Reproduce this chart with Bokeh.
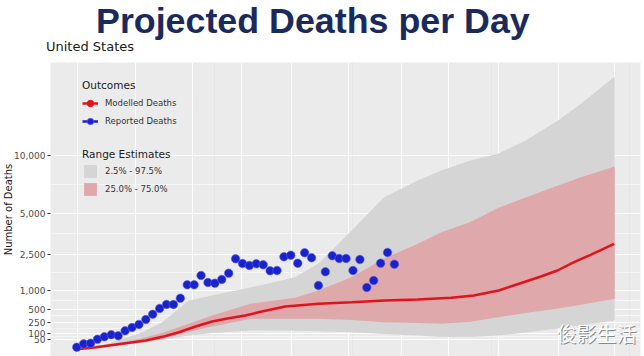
import math
from bokeh.plotting import figure
from bokeh.layouts import column
from bokeh.models import (Range1d, FixedTicker, Grid, Legend, LegendItem, Label, Div,
                          ColumnDataSource)
from bokeh.embed import file_html
from bokeh.resources import INLINE

# ---------------- data ----------------
title_text = "Projected Deaths per Day"
subtitle_text = "United States"
y_axis_title = "Number of Deaths"
watermark_text = "俊影生活"

tick_values = [50, 100, 250, 500, 1000, 2500, 5000, 10000]
tick_labels = ["50", "100", "250", "500", "1,000", "2,500", "5,000", "10,000"]

reported_days = list(range(47))
reported_deaths = [11, 25, 28, 54, 73, 92, 82, 134, 175, 218,
                   298, 398, 520, 616, 616, 784, 1207, 1207, 1555, 1289,
                   1264, 1400, 1647, 2288, 2067, 1977, 2054, 2008, 1747, 1759,
                   2386, 2465, 2081, 2586, 2337, 1183, 1705, 2435, 2303, 2303,
                   1759, 2254, 1114, 1362, 2081, 2602, 2035]

model_days = [0, 2.8, 5.2, 7.6, 10, 12.4, 14.8, 17.2, 19.6, 22, 24.4, 26.8, 30.2,
              35, 39.8, 44.6, 49.4, 54.2, 57.5, 61.1, 64.7, 67.2, 69.6, 72, 74.4, 77.8]
model_deaths = [5, 11, 20, 31, 45, 73, 118, 189, 264, 321, 372, 453, 567,
                634, 675, 720, 747, 795, 862, 1016, 1300, 1515, 1759, 2128, 2485, 3068]

band_days = [0, 4, 9, 12.4, 16.2, 19.6, 25.3, 31.6, 35, 39.8, 44.5, 49.4, 52.8,
             57, 61, 65, 69.7, 73, 77.9]
band_2_5 = [3, 10, 30, 50, 85, 110, 138, 135, 128, 118, 100, 85, 72,
            72, 85, 115, 162, 205, 281]
band_97_5 = [8, 22, 101, 253, 720, 862, 1124, 1488, 2067, 3855, 6218, 7615, 8519,
             9470, 10141, 11540, 13800, 15850, 19499]
band_25 = [4, 12, 33, 55, 120, 189, 311, 311, 311, 290, 253, 240, 228,
           260, 340, 420, 520, 610, 767]
band_75 = [6, 17, 55, 110, 230, 372, 640, 800, 1016, 1488, 2300, 3068, 3750,
           4400, 5389, 6200, 7181, 7900, 8894]

x_grid_days = [0.1, 8.5, 16.7, 23.9, 31.1, 39.4, 47, 53.8, 61.1, 69.7, 77.9]

outcome_labels = ["Modelled Deaths", "Reported Deaths"]
range_labels = ["2.5% - 97.5%", "25.0% - 75.0%"]

# ---------------- sqrt-scale transform ----------------
sq = lambda vals: [math.sqrt(v) for v in vals]

rep_src = ColumnDataSource(dict(day=reported_days, y=sq(reported_deaths)))
mod_src = ColumnDataSource(dict(day=model_days, y=sq(model_deaths)))
band_src = ColumnDataSource(dict(day=band_days, lo95=sq(band_2_5), hi95=sq(band_97_5),
                                 lo50=sq(band_25), hi50=sq(band_75)))
# legend-key helper source: one row of NaN, so nothing is drawn inside the plot
key_src = ColumnDataSource(dict(day=[math.nan], y=[math.nan]))

RED = "#E0141C"
BLUE = "#1A22CC"

# ---------------- heading (title + subtitle) ----------------
head_html = (
    '<div style="position:relative;width:644px;height:62px;margin:0;padding:0;">'
    '<div style="position:absolute;left:96px;top:1px;white-space:nowrap;'
    "font-family:'Liberation Sans';font-weight:bold;font-size:35.8px;line-height:40px;"
    f'color:#1B2A5C;">{title_text}</div>'
    '<div style="position:absolute;left:46px;top:39px;white-space:nowrap;'
    "font-family:'DejaVu Sans';font-weight:normal;font-size:13px;line-height:16px;"
    f'color:#1A1A1A;">{subtitle_text}</div>'
    '</div>'
)
head = Div(text=head_html, width=644, height=62, margin=0)

# ---------------- plot ----------------
p = figure(width=644, height=294, output_backend="svg", toolbar_location=None,
           title=None, margin=0,
           x_range=Range1d(-3.8, 81.63), y_range=Range1d(-1.36, 146.68),
           x_axis_location=None, min_border_left=48, min_border_right=4,
           min_border_top=0, min_border_bottom=0)
p.background_fill_color = "#EBEBEB"
p.border_fill_color = "white"
p.outline_line_color = None

# grids
p.ygrid.grid_line_color = "white"
p.ygrid.grid_line_width = 1.1
p.ygrid.minor_grid_line_color = "white"
p.ygrid.minor_grid_line_width = 0.5
xg = Grid(dimension=0, ticker=FixedTicker(ticks=x_grid_days),
          grid_line_color="white", grid_line_width=1.1)
p.add_layout(xg)

# y axis
major_sq = sq(tick_values)
minor_sq = [(a + b) / 2 for a, b in zip(major_sq[:-1], major_sq[1:])]
p.yaxis.ticker = FixedTicker(ticks=major_sq, minor_ticks=minor_sq)
p.yaxis.major_label_overrides = {t: lab for t, lab in zip(major_sq, tick_labels)}
p.yaxis.axis_line_color = None
p.yaxis.major_tick_line_color = "#333333"
p.yaxis.major_tick_out = 3
p.yaxis.major_tick_in = 0
p.yaxis.minor_tick_line_color = None
p.yaxis.major_label_standoff = 1
p.yaxis.major_label_text_font = "DejaVu Sans"
p.yaxis.major_label_text_font_size = "9px"
p.yaxis.major_label_text_color = "#4D4D4D"
p.yaxis.axis_label = y_axis_title
p.yaxis.axis_label_standoff = -3
p.yaxis.axis_label_text_font = "DejaVu Sans"
p.yaxis.axis_label_text_font_size = "10px"
p.yaxis.axis_label_text_font_style = "normal"
p.yaxis.axis_label_text_color = "#1A1A1A"

# glyphs
gray_r = p.varea(x="day", y1="lo95", y2="hi95", source=band_src, fill_color="#D5D5D5")
pink_r = p.varea(x="day", y1="lo50", y2="hi50", source=band_src, fill_color="#DFA8AB")
mod_r = p.line(x="day", y="y", source=mod_src, line_color=RED, line_width=2.5)
rep_r = p.scatter(x="day", y="y", source=rep_src, size=8.5, fill_color=BLUE,
                  line_color="#5a60e0", line_width=0.6)
mod_key = p.scatter(x="day", y="y", source=key_src, size=6, fill_color=RED, line_color=RED)
rep_key_line = p.line(x="day", y="y", source=key_src, line_color=BLUE, line_width=2.5)

# legends (location = bottom-left corner, px from the frame's bottom-left)
leg1 = Legend(items=[LegendItem(label=outcome_labels[0], renderers=[mod_r, mod_key]),
                     LegendItem(label=outcome_labels[1], renderers=[rep_key_line, rep_r])],
              title="Outcomes", location=(32, 226))
leg2 = Legend(items=[LegendItem(label=range_labels[0], renderers=[gray_r]),
                     LegendItem(label=range_labels[1], renderers=[pink_r])],
              title="Range Estimates", location=(32, 159))
for lg, h, sp in ((leg1, 18, 0), (leg2, 16, 2)):
    lg.background_fill_alpha = 0
    lg.border_line_color = None
    lg.padding = 0
    lg.margin = 0
    lg.spacing = sp
    lg.glyph_width = 16
    lg.glyph_height = h
    lg.label_height = h
    lg.label_standoff = 7
    lg.title_standoff = 3
    lg.label_text_font = "DejaVu Sans"
    lg.label_text_font_size = "8.5px"
    lg.label_text_color = "#333333"
    lg.title_text_font = "DejaVu Sans"
    lg.title_text_font_size = "10.5px"
    lg.title_text_font_style = "normal"
    lg.title_text_color = "#1A1A1A"
    p.add_layout(lg, "center")

# watermark (inside the panel)
p.add_layout(Label(x=547, y=22, x_units="screen", y_units="screen", text=watermark_text,
                   text_align="center", text_baseline="middle",
                   text_font="Noto Sans CJK SC", text_font_size="20px", text_color="#8A8A8A"))
p.add_layout(Label(x=546, y=23, x_units="screen", y_units="screen", text=watermark_text,
                   text_align="center", text_baseline="middle",
                   text_font="Noto Sans CJK SC", text_font_size="20px", text_color="white"))

layout = column(head, p, spacing=0, margin=0)
open("out.html", "w").write(file_html(layout, INLINE))
